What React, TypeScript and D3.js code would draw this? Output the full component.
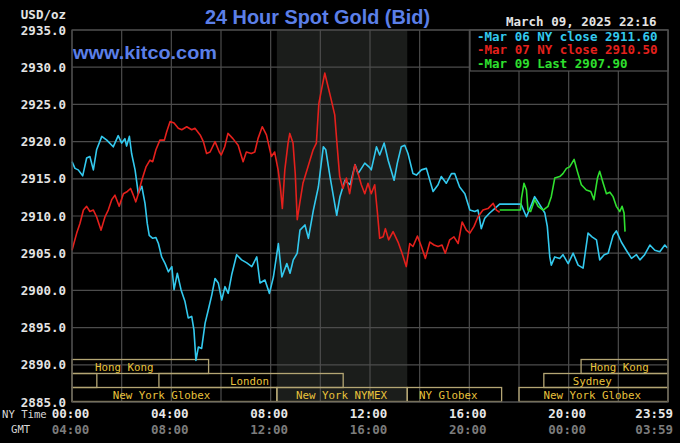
import React from "react";
import * as d3 from "d3";

const W = 680;
const H = 443;

// ---- data ----
const mar06Hours = [0,0.12,0.25,0.43,0.59,0.72,0.86,0.99,1.2,1.4,1.66,1.86,2.0,2.13,2.2,2.31,2.4,2.54,2.67,2.81,2.94,3.03,3.11,3.25,3.38,3.48,3.61,3.75,3.88,4.02,4.11,4.24,4.39,4.55,4.68,4.82,4.91,4.99,5.09,5.22,5.36,5.49,5.63,5.76,5.89,6.03,6.16,6.29,6.43,6.63,6.83,7.04,7.24,7.44,7.57,7.77,7.95,8.11,8.31,8.45,8.65,8.78,8.91,9.07,9.18,9.38,9.52,9.72,9.92,10.12,10.22,10.39,10.55,10.66,10.79,10.99,11.2,11.4,11.52,11.79,11.99,12.05,12.26,12.39,12.57,12.73,12.97,13.1,13.26,13.4,13.53,13.73,13.87,14.07,14.27,14.54,14.74,14.87,15.07,15.28,15.41,15.61,15.82,16.02,16.22,16.35,16.48,16.62,16.82,17.02,17.22,18.08,18.3,18.5,18.63,18.84,19.04,19.14,19.24,19.3,19.44,19.64,19.77,19.98,20.18,20.38,20.58,20.78,20.94,21.12,21.25,21.43,21.59,21.79,21.92,22.12,22.32,22.53,22.73,22.87,23.06,23.27,23.47,23.67,23.87,23.98];
const mar06Values = [2917.3,2916.4,2916.2,2915.4,2917.8,2918.0,2916.2,2918.9,2920.7,2920.2,2919.3,2920.8,2919.8,2920.4,2919.4,2920.7,2918.4,2916.2,2913.0,2914.0,2911.7,2909.0,2907.4,2907.0,2907.1,2906.3,2904.5,2903.6,2902.5,2903.2,2900.1,2902.3,2900.1,2898.5,2896.3,2896.5,2894.7,2890.6,2892.4,2892.2,2895.6,2897.4,2899.4,2901.6,2901.0,2898.7,2900.5,2899.6,2902.1,2904.8,2904.1,2903.7,2903.2,2904.5,2901.0,2901.4,2899.6,2901.8,2906.3,2901.8,2903.6,2902.3,2904.1,2905.0,2908.1,2908.8,2907.0,2910.8,2913.9,2919.3,2918.9,2915.3,2912.2,2910.1,2912.6,2914.8,2914.2,2916.9,2915.7,2917.1,2916.5,2916.2,2919.3,2918.2,2919.8,2917.5,2914.8,2917.1,2919.3,2919.5,2918.4,2915.7,2915.5,2916.2,2916.4,2913.3,2914.2,2915.3,2914.4,2915.7,2915.7,2913.9,2913.0,2910.8,2910.6,2910.8,2908.3,2909.7,2910.4,2911.0,2911.6,2911.6,2909.9,2911.5,2912.6,2911.5,2910.4,2908.6,2904.5,2903.4,2904.5,2904.3,2904.8,2903.6,2905.0,2903.4,2903.0,2907.7,2907.2,2906.8,2904.1,2904.8,2905.0,2907.4,2908.0,2906.5,2905.4,2904.3,2904.8,2904.1,2904.8,2906.1,2905.4,2905.2,2906.1,2905.7];

const mar07Hours = [0,0.19,0.32,0.46,0.59,0.72,0.86,0.99,1.17,1.33,1.46,1.6,1.73,1.9,2.07,2.23,2.36,2.47,2.57,2.67,2.81,2.98,3.14,3.25,3.38,3.54,3.72,3.81,3.95,4.11,4.28,4.42,4.62,4.82,4.95,5.16,5.29,5.42,5.56,5.76,5.93,6.01,6.15,6.28,6.48,6.69,6.89,7.02,7.22,7.36,7.49,7.66,7.83,8.03,8.16,8.3,8.39,8.47,8.57,8.7,8.77,8.9,8.99,9.07,9.17,9.3,9.5,9.71,9.84,9.94,10.07,10.18,10.31,10.44,10.58,10.68,10.78,10.91,11.05,11.18,11.39,11.52,11.65,11.79,11.92,12.05,12.19,12.3,12.39,12.53,12.62,12.75,12.93,13.13,13.29,13.46,13.6,13.73,13.91,14.07,14.23,14.41,14.58,14.74,14.9,15.03,15.21,15.38,15.55,15.71,15.88,16.02,16.19,16.35,16.55,16.75,16.96,17.09,17.22];
const mar07Values = [2905.4,2907.7,2909.0,2910.8,2911.3,2910.6,2910.8,2909.9,2908.1,2909.9,2910.8,2912.2,2912.8,2911.3,2913.0,2913.3,2913.7,2912.8,2911.9,2913.0,2914.8,2916.6,2917.5,2917.3,2918.9,2920.2,2920.2,2921.3,2922.7,2922.5,2921.8,2921.6,2922.0,2921.6,2921.8,2920.9,2920.0,2918.4,2918.6,2920.0,2918.6,2918.2,2919.3,2921.1,2920.4,2919.5,2917.3,2918.6,2918.4,2918.6,2920.4,2922.0,2920.9,2918.0,2918.6,2916.2,2913.9,2911.0,2916.2,2919.8,2921.1,2919.8,2915.7,2909.5,2911.7,2914.4,2916.6,2918.9,2919.8,2925.1,2927.4,2929.2,2927.4,2925.6,2923.6,2919.3,2915.3,2913.7,2915.1,2913.0,2916.9,2915.7,2914.2,2913.0,2914.4,2913.0,2914.2,2910.4,2907.0,2907.2,2908.3,2906.8,2907.9,2906.5,2905.0,2903.2,2906.3,2905.9,2907.3,2905.9,2904.3,2906.5,2906.1,2905.9,2906.1,2905.0,2906.8,2907.2,2906.3,2909.2,2908.1,2907.7,2908.6,2909.9,2910.8,2911.0,2911.7,2910.8,2910.5];

const mar09Hours = [17.22,18.06,18.1,18.2,18.3,18.36,18.47,18.63,18.77,18.97,19.17,19.3,19.44,19.64,19.77,19.91,20.04,20.22,20.35,20.51,20.71,20.89,21.02,21.16,21.25,21.39,21.52,21.66,21.79,21.92,22.06,22.15,22.23,22.27];
const mar09Values = [2910.8,2910.8,2912.4,2914.4,2913.5,2910.8,2910.6,2912.2,2911.3,2910.8,2911.3,2912.6,2915.1,2915.3,2915.7,2916.4,2916.6,2917.6,2916.0,2914.2,2913.5,2913.3,2912.2,2915.1,2916.0,2914.4,2913.0,2913.2,2912.6,2911.3,2910.6,2911.3,2910.4,2907.9];

const yTicks = [2885, 2890, 2895, 2900, 2905, 2910, 2915, 2920, 2925, 2930, 2935];
const xTickHours = [0, 4, 8, 12, 16, 20, 24];
const nyTimeLabels = ["00:00", "04:00", "08:00", "12:00", "16:00", "20:00", "23:59"];
const gmtLabels = ["04:00", "08:00", "12:00", "16:00", "20:00", "00:00", "03:59"];

const legendLabels = ["-Mar 06 NY close 2911.60", "-Mar 07 NY close 2910.50", "-Mar 09 Last 2907.90"];
const seriesColors = ["#33c9ee", "#e4201c", "#2fe02f"];

const sessionNames = ["Hong Kong", "Hong Kong", "", "London", "Sydney", "New York Globex", "New York NYMEX", "NY Globex", "New York Globex"];
const sessionRows = [0, 0, 1, 1, 1, 2, 2, 2, 2];
const sessionStarts = [0, 20.5, 0, 3.5, 19, 0, 8.25, 13.5, 18];
const sessionEnds = [5.5, 24, 1, 10.92, 24, 8.25, 13.5, 17.3, 24];
const sessionLabelAt = [2.1, 22.05, 0.5, 7.15, 20.95, 3.6, 10.85, 15.15, 20.95];

const nymexOpen = 8.25;
const nymexClose = 13.5;

export default function App() {
  const left = 72, right = 668, top = 30, bottom = 402;
  const x = d3.scaleLinear().domain([0, 24]).range([left, right]);
  const y = d3.scaleLinear().domain([2885, 2935]).range([bottom, top]);

  const mk = (hs: number[], vs: number[]) =>
    d3.line<number>().x((_, i) => x(hs[i])).y((v) => y(v))(vs) || "";

  const series = [
    mk(mar06Hours, mar06Values),
    mk(mar07Hours, mar07Values),
    mk(mar09Hours, mar09Values),
  ];

  const gridHours = d3.range(0, 25, 2);
  const mono = "'DejaVu Sans Mono', monospace";
  const gridColor = "#4c4c4c";
  const rowTop = 359.5;
  const rowH = 14;

  return (
    <svg width={W} height={H} style={{ position: "absolute", left: 0, top: 0, background: "#000", display: "block" }}>
      <rect x={0} y={0} width={W} height={H} fill="#000" />
      {/* NYMEX shading */}
      <rect x={x(nymexOpen)} y={top} width={x(nymexClose) - x(nymexOpen)} height={bottom - top} fill="#1b1d1b" />
      {/* grid */}
      {gridHours.map((h) => (
        <line key={"v" + h} x1={x(h)} x2={x(h)} y1={top} y2={bottom} stroke={gridColor} strokeWidth={1.2} />
      ))}
      {yTicks.map((t) => (
        <line key={"h" + t} x1={left} x2={right} y1={y(t)} y2={y(t)} stroke={gridColor} strokeWidth={1.2} />
      ))}
      {/* sessions */}
      {sessionNames.map((n, i) => (
        <g key={"s" + i}>
          <rect x={x(sessionStarts[i])} y={rowTop + sessionRows[i] * rowH} width={x(sessionEnds[i]) - x(sessionStarts[i])} height={rowH}
            fill="none" stroke="#b4a674" strokeWidth={1.3} />
          {n && (
            <text x={x(sessionLabelAt[i])} y={rowTop + sessionRows[i] * rowH + rowH / 2 + 0.5} textAnchor="middle" dominantBaseline="central"
              fontFamily={mono} fontSize={10.8} fill="#e8c23c">{n}</text>
          )}
        </g>
      ))}
      {/* series */}
      <g>
        {series.map((d, i) => (
          <path key={"p" + i} d={d} fill="none" stroke={seriesColors[i]} strokeWidth={1.6} strokeLinejoin="round" />
        ))}
      </g>
      {/* legend */}
      <rect x={470} y={top} width={right - 470} height={41} fill="#000" stroke="#555" strokeWidth={1.2} />
      {legendLabels.map((l, i) => (
        <text key={"l" + i} x={477} y={36 + i * 13.5} dominantBaseline="central" fontFamily={mono} fontWeight="bold" fontSize={12.5} fill={seriesColors[i]}>{l}</text>
      ))}
      <text x={506} y={21} dominantBaseline="central" fontFamily={mono} fontWeight="bold" fontSize={12.5} fill="#e4e4e4">March 09, 2025 22:16</text>
      {/* title */}
      <text x={205} y={24} fontFamily="'Liberation Sans', Arial, sans-serif" fontWeight="bold" fontSize={19.5} fill="#5b7fe8"
        textLength={225} lengthAdjust="spacingAndGlyphs">24 Hour Spot Gold (Bid)</text>
      <text x={73} y={59} fontFamily="'Liberation Sans', Arial, sans-serif" fontWeight="bold" fontSize={19} fill="#5b7fe8"
        textLength={144} lengthAdjust="spacingAndGlyphs">www.kitco.com</text>
      {/* plot border */}
      <rect x={left} y={top} width={right - left} height={bottom - top} fill="none" stroke={gridColor} strokeWidth={1.2} />
      {/* y axis */}
      <text x={66} y={14} textAnchor="end" dominantBaseline="central" fontFamily={mono} fontWeight="bold" fontSize={12.5} fill="#e4e4e4">USD/oz</text>
      {yTicks.map((t) => (
        <text key={"yt" + t} x={66} y={y(t)} textAnchor="end" dominantBaseline="central" fontFamily={mono} fontWeight="bold" fontSize={12.5} fill="#e4e4e4">
          {t.toFixed(1)}
        </text>
      ))}
      {/* x axis */}
      <text x={2} y={414} dominantBaseline="central" fontFamily={mono} fontSize={10.6} fill="#d8d8d8">NY Time</text>
      <text x={11} y={429} dominantBaseline="central" fontFamily={mono} fontSize={10.6} fill="#d8d8d8">GMT</text>
      {xTickHours.map((h, i) => {
        const last = i === xTickHours.length - 1;
        const xx = last ? x(h) + 5 : x(h) - 1.5;
        const anchor = last ? "end" : "middle";
        return (
          <g key={"xt" + h}>
            <text x={xx} y={413} textAnchor={anchor} dominantBaseline="central" fontFamily={mono} fontWeight="bold" fontSize={12.5} fill="#e8e8e8">{nyTimeLabels[i]}</text>
            <text x={xx} y={429} textAnchor={anchor} dominantBaseline="central" fontFamily={mono} fontWeight="bold" fontSize={12.5} fill="#7c7c7c">{gmtLabels[i]}</text>
          </g>
        );
      })}
    </svg>
  );
}
